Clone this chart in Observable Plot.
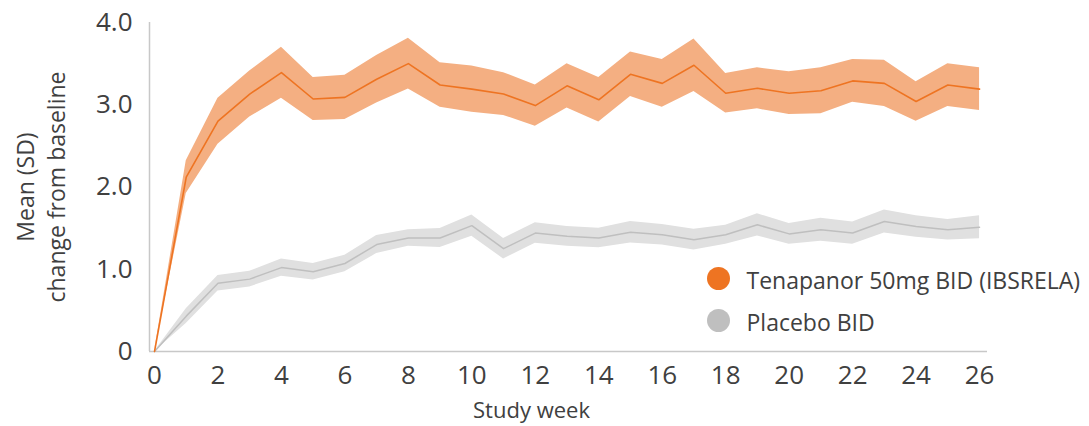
<!DOCTYPE html>
<html>
<head>
<meta charset="utf-8">
<script src="https://cdn.jsdelivr.net/npm/d3@7"></script>
<script src="https://cdn.jsdelivr.net/npm/@observablehq/plot@0.6"></script>
<style>
  html, body { margin: 0; padding: 0; background: #fff; }
</style>
</head>
<body>
<div id="chart"></div>
<script>
// Study weeks 0–26
const weeks = [0, 1, 2, 3, 4, 5, 6, 7, 8, 9, 10, 11, 12, 13, 14, 15, 16, 17, 18, 19, 20, 21, 22, 23, 24, 25, 26];

// Tenapanor 50mg BID: mean change from baseline and its SD
const tenapanorMean = [0, 2.12, 2.80, 3.13, 3.39, 3.07, 3.09, 3.31, 3.50, 3.24, 3.19, 3.13, 2.99, 3.23, 3.06, 3.37, 3.26, 3.48, 3.14, 3.20, 3.14, 3.17, 3.29, 3.26, 3.04, 3.24, 3.19];
const tenapanorSD   = [0, 0.20, 0.28, 0.28, 0.31, 0.26, 0.27, 0.29, 0.31, 0.27, 0.28, 0.26, 0.25, 0.27, 0.27, 0.27, 0.29, 0.32, 0.24, 0.25, 0.26, 0.28, 0.26, 0.28, 0.24, 0.26, 0.26];

// Placebo BID: mean change from baseline and its SD
const placeboMean = [0, 0.43, 0.83, 0.88, 1.02, 0.97, 1.07, 1.30, 1.38, 1.38, 1.53, 1.25, 1.44, 1.40, 1.38, 1.45, 1.42, 1.36, 1.42, 1.54, 1.43, 1.48, 1.44, 1.58, 1.52, 1.48, 1.51];
const placeboSD   = [0, 0.09, 0.095, 0.095, 0.105, 0.10, 0.10, 0.11, 0.10, 0.115, 0.13, 0.125, 0.125, 0.12, 0.12, 0.13, 0.125, 0.125, 0.115, 0.135, 0.125, 0.14, 0.135, 0.14, 0.13, 0.125, 0.14];

// Series names, colours and axis ticks
const seriesNames = ["Tenapanor 50mg BID (IBSRELA)", "Placebo BID"];
const lineColors = ["#EE7422", "#BFBFBF"];
const bandColors = ["#F4AF82", "#E0E0E0"];
const xTicks = [0, 2, 4, 6, 8, 10, 12, 14, 16, 18, 20, 22, 24, 26];
const yTicks = [0, 1, 2, 3, 4];
const xDomain = [-0.158, 26.25];

const rows = (mean, sd) => weeks.map((w, i) => ({
  week: w, mean: mean[i], lo: mean[i] - sd[i], hi: mean[i] + sd[i]
}));
const tenapanor = rows(tenapanorMean, tenapanorSD);
const placebo = rows(placeboMean, placeboSD);

const textColor = "#404040";
const axisColor = "#C8C8C8";

const chart = Plot.plot({
  width: 1089,
  height: 426,
  marginLeft: 149,
  marginRight: 102,
  marginTop: 22,
  marginBottom: 75,
  style: { fontFamily: "'Open Sans', sans-serif", fontSize: "26px", color: textColor, background: "#fff" },
  x: { domain: xDomain, ticks: xTicks, tickSize: 0, tickPadding: 14, label: null, tickFormat: d => String(d) },
  y: { domain: [0, 4], ticks: yTicks, tickSize: 0, tickPadding: 17, label: null,
       tickFormat: d => d === 0 ? "0" : d.toFixed(1) },
  marks: [
    // axis lines
    Plot.ruleX([xDomain[0]], { stroke: axisColor, strokeWidth: 1.5 }),
    Plot.ruleY([0], { stroke: axisColor, strokeWidth: 1.5 }),

    // placebo: SD band and mean line
    Plot.areaY(placebo, { x: "week", y1: "lo", y2: "hi", fill: bandColors[1] }),
    Plot.lineY(placebo, { x: "week", y: "mean", stroke: lineColors[1], strokeWidth: 1.5 }),

    // tenapanor: SD band and mean line
    Plot.areaY(tenapanor, { x: "week", y1: "lo", y2: "hi", fill: bandColors[0] }),
    Plot.lineY(tenapanor, { x: "week", y: "mean", stroke: lineColors[0], strokeWidth: 1.6 }),

    // y axis title (two lines)
    Plot.text(["Mean (SD)\nchange from baseline"], {
      text: d => d, frameAnchor: "left", rotate: -90, dx: -109.5, dy: 0,
      lineAnchor: "middle", textAnchor: "middle", lineHeight: 1.35,
      fontSize: 23, fill: textColor
    }),

    // x axis title
    Plot.text(["Study week"], {
      text: d => d, frameAnchor: "bottom-left", dx: 382, dy: 59,
      lineAnchor: "middle", textAnchor: "middle", fontSize: 22, fill: textColor
    }),

    // legend
    Plot.dot([seriesNames[0]], { frameAnchor: "top-left", dx: 569, dy: 256, r: 11.5, fill: lineColors[0], stroke: null }),
    Plot.dot([seriesNames[1]], { frameAnchor: "top-left", dx: 569, dy: 298, r: 11.5, fill: lineColors[1], stroke: null }),
    Plot.text([seriesNames[0]], { text: d => d, frameAnchor: "top-left", dx: 597, dy: 259,
      textAnchor: "start", lineAnchor: "middle", fontSize: 23, fill: textColor }),
    Plot.text([seriesNames[1]], { text: d => d, frameAnchor: "top-left", dx: 597, dy: 301,
      textAnchor: "start", lineAnchor: "middle", fontSize: 23, fill: textColor })
  ]
});

document.getElementById("chart").append(chart);
</script>
</body>
</html>
